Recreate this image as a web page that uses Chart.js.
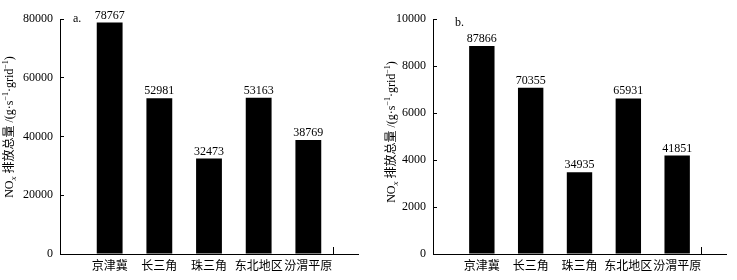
<!DOCTYPE html>
<html lang="zh">
  <head>
    <meta charset="UTF-8" />
    <title>NOx 排放总量</title>
    <script src="https://cdn.jsdelivr.net/npm/chart.js"></script>
    <style>
      body {
        margin: 0;
        background: #fff;
      }
      .box {
        position: absolute;
        top: 0;
        height: 280px;
      }
    </style>
  </head>
  <body>
    <div class="box" style="left: 0; width: 370px"><canvas id="chartA"></canvas></div>
    <div class="box" style="left: 370px; width: 367px"><canvas id="chartB"></canvas></div>

    <script>
      // 地区
      const categories = ["京津冀", "长三角", "珠三角", "东北地区", "汾渭平原"];
      // a. 柱高 = 标注值
      const aValues = [78767, 52981, 32473, 53163, 38769];
      const aLabels = ["78767", "52981", "32473", "53163", "38769"];
      const aTicks = [0, 20000, 40000, 60000, 80000];
      // b. 柱高 (按坐标读出) 与标注值
      const bValues = [8850, 7075, 3480, 6620, 4190];
      const bLabels = ["87866", "70355", "34935", "65931", "41851"];
      const bTicks = [0, 2000, 4000, 6000, 8000, 10000];

      const SERIF = '"Liberation Serif", "Times New Roman", "Noto Sans CJK SC", serif';
      const CJK = '"Noto Sans CJK SC", sans-serif';

      // 纵轴标题: NOx 排放总量 /(g·s-1·grid-1)
      const titleParts = [
        { t: "NO", s: "n" },
        { t: "x", s: "sub" },
        { t: " 排放总量 /(g·s", s: "n" },
        { t: "−1", s: "sup" },
        { t: "·grid", s: "n" },
        { t: "−1", s: "sup" },
        { t: ")", s: "n" },
      ];

      function fontOf(s) {
        if (s === "sub") return "italic 9px " + SERIF;
        if (s === "sup") return "8px " + SERIF;
        return "12px " + SERIF;
      }

      function drawTitle(ctx, x, cy) {
        ctx.save();
        let total = 0;
        titleParts.forEach((p) => {
          ctx.font = fontOf(p.s);
          p.w = ctx.measureText(p.t).width;
          total += p.w;
        });
        ctx.translate(x, cy);
        ctx.rotate(-Math.PI / 2);
        ctx.fillStyle = "#000";
        ctx.textBaseline = "alphabetic";
        let pos = -total / 2;
        titleParts.forEach((p) => {
          ctx.font = fontOf(p.s);
          let dy = 4;
          if (p.s === "sub") dy = 7;
          if (p.s === "sup") dy = -1;
          ctx.fillText(p.t, pos, dy);
          pos += p.w;
        });
        ctx.restore();
      }

      function makePlugin(letter, labels, tx, ty, lx, ly) {
        return {
          id: "extras",
          afterDatasetsDraw(chart) {
            const ctx = chart.ctx;
            const meta = chart.getDatasetMeta(0);
            ctx.save();
            ctx.fillStyle = "#000";
            ctx.font = "12px " + SERIF;
            ctx.textAlign = "center";
            ctx.textBaseline = "alphabetic";
            meta.data.forEach((bar, i) => {
              const txt = labels[i - 1];
              if (txt) ctx.fillText(txt, bar.x, bar.y - 4);
            });
            ctx.textAlign = "left";
            ctx.textBaseline = "middle";
            ctx.fillText(letter, lx, ly);
            ctx.restore();
            drawTitle(ctx, tx, ty);
          },
        };
      }

      function drawChart(id, values, labels, ticks, step, yWidth, padRight, plugin) {
        const ctx = document.getElementById(id);
        const xLabels = [""].concat(categories, [""]);
        const n = xLabels.length;

        new Chart(ctx, {
          type: "bar",
          data: {
            labels: xLabels,
            datasets: [
              {
                data: [null].concat(values, [null]),
                backgroundColor: "#000",
                borderWidth: 0,
                categoryPercentage: 1,
                barPercentage: 0.52,
              },
            ],
          },
          options: {
            responsive: true,
            maintainAspectRatio: false,
            animation: false,
            layout: { padding: { top: 19, right: padRight, left: 0, bottom: 0 } },
            plugins: { legend: { display: false }, tooltip: { enabled: false } },
            scales: {
              x: {
                offset: false,
                grid: {
                  drawOnChartArea: false,
                  drawTicks: true,
                  tickLength: -7,
                  tickColor: (c) => (c.index === n - 1 ? "#000" : "rgba(0,0,0,0)"),
                },
                border: { display: true, color: "#000", width: 1 },
                ticks: {
                  color: "#000",
                  font: { family: CJK, size: 12 },
                  padding: 11,
                  maxRotation: 0,
                  autoSkip: false,
                },
                afterFit: (s) => {
                  s.height = 26;
                },
              },
              y: {
                min: 0,
                max: ticks[ticks.length - 1],
                afterBuildTicks: (s) => {
                  s.ticks = ticks.map((v) => ({ value: v }));
                },
                grid: {
                  drawOnChartArea: false,
                  drawTicks: true,
                  tickLength: -4,
                  tickColor: "#000",
                },
                border: { display: true, color: "#000", width: 1 },
                ticks: {
                  color: "#000",
                  font: { family: SERIF, size: 12 },
                  padding: 11,
                  callback: (v) => String(v),
                },
                afterFit: (s) => {
                  s.width = yWidth;
                },
              },
            },
          },
          plugins: [plugin],
        });
      }

      drawChart("chartA", aValues, aLabels, aTicks, 20000, 60, 12, makePlugin("a.", aLabels, 9, 127, 73, 19));
      drawChart("chartB", bValues, bLabels, bTicks, 2000, 63, 9, makePlugin("b.", bLabels, 21, 132, 85, 23));
    </script>
  </body>
</html>
